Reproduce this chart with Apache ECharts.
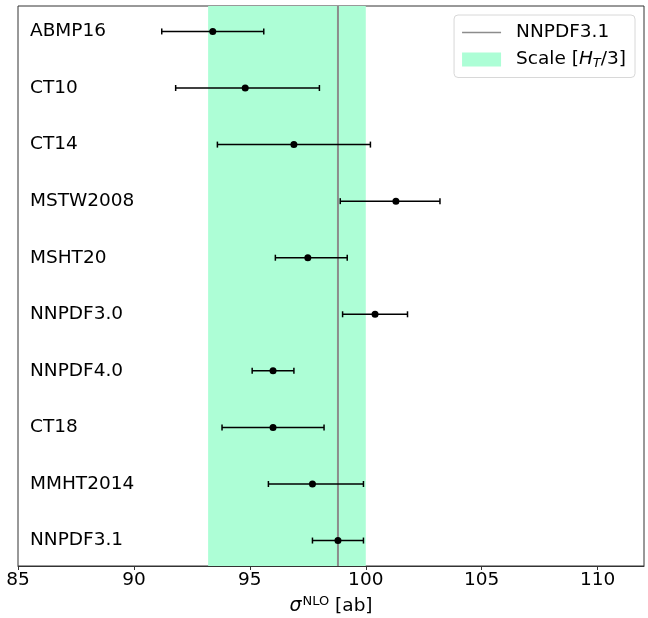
<!DOCTYPE html>
<html>
<head>
<meta charset="utf-8">
<script src="https://cdn.jsdelivr.net/npm/echarts@6/dist/echarts.min.js"></script>
<style>
  html, body { margin: 0; padding: 0; background: #fff; }
  #chart { width: 648px; height: 618px; }
</style>
</head>
<body>
<div id="chart"></div>
<script>
// PDF sets, top to bottom
const pdfNames = ['ABMP16', 'CT10', 'CT14', 'MSTW2008', 'MSHT20', 'NNPDF3.0', 'NNPDF4.0', 'CT18', 'MMHT2014', 'NNPDF3.1']
// central values and error ends [ab]
const central = [93.4, 94.8, 96.9, 101.3, 97.5, 100.4, 96.0, 96.0, 97.7, 98.8]
const errLow = [91.2, 91.8, 93.6, 98.9, 96.1, 99.0, 95.1, 93.8, 95.8, 97.7]
const errHigh = [95.6, 98.0, 100.2, 103.2, 99.2, 101.8, 96.9, 98.2, 99.9, 99.9]
// reference line (NNPDF3.1) and scale band [H_T/3]
const refValue = 98.8
const scaleBand = [93.2, 100.0]
const xTicks = [85, 90, 95, 100, 105, 110]

const yMin = -0.45
const yMax = 9.45
const font = 'DejaVu Sans'
const fs = 18.5

const chart = echarts.init(document.getElementById('chart'))

const option = {
  backgroundColor: '#fff',
  animation: false,
  textStyle: { fontFamily: font },
  grid: {
    left: 18, right: 4, top: 6, bottom: 52,
    outerBoundsMode: 'none',
    containLabel: false,
    show: true, borderColor: '#333', borderWidth: 1
  },
  legend: {
    orient: 'vertical',
    right: 13,
    top: 15,
    backgroundColor: '#fff',
    borderColor: '#d8d8d8',
    borderWidth: 1,
    borderRadius: 4,
    padding: [7, 9, 7, 8],
    itemWidth: 39,
    itemHeight: 14,
    itemGap: 6,
    textStyle: {
      fontFamily: font, fontSize: fs, color: '#000', lineHeight: 21,
      padding: [0, 0, 0, 10],
      rich: {
        i: { fontFamily: font, fontSize: fs, fontStyle: 'italic', color: '#000' },
        sub: { fontFamily: font, fontSize: 13, fontStyle: 'italic', color: '#000', padding: [9, 0, 0, 0] }
      }
    },
    formatter(name) {
      if (name === 'scale') return 'Scale [{i|H}{sub|T}/3]'
      return name
    },
    data: [
      { name: 'NNPDF3.1', icon: 'path://M0,0 L40,0 L40,1.6 L0,1.6 Z' },
      { name: 'scale', icon: 'rect' }
    ]
  },
  xAxis: {
    type: 'value',
    min: 85,
    max: 112,
    interval: 5,
    name: '{s|σ}{sup|NLO} [ab]',
    nameLocation: 'middle',
    nameGap: 28,
    nameTextStyle: {
      fontFamily: font, fontSize: fs, color: '#000',
      rich: {
        s: { fontFamily: font, fontSize: 19, fontStyle: 'italic', color: '#000' },
        sup: { fontFamily: font, fontSize: 13, color: '#000', padding: [0, 0, 10, 1] }
      }
    },
    axisLine: { show: true, onZero: false, lineStyle: { color: '#333', width: 1 } },
    axisTick: { show: true, length: 4, customValues: xTicks, lineStyle: { color: '#333' } },
    splitLine: { show: false },
    axisLabel: {
      fontFamily: font, fontSize: fs, color: '#000', margin: 5,
      customValues: xTicks
    }
  },
  yAxis: {
    type: 'value',
    min: yMin,
    max: yMax,
    inverse: true,
    axisLine: { show: false },
    axisTick: { show: false },
    axisLabel: { show: false },
    splitLine: { show: false }
  },
  series: [
    {
      name: 'scale',
      type: 'custom',
      z: 1,
      itemStyle: { color: '#adfed6' },
      data: [[scaleBand[0], scaleBand[1]]],
      renderItem(params, api) {
        const p0 = api.coord([api.value(0), yMin])
        const p1 = api.coord([api.value(1), yMax])
        return {
          type: 'rect',
          shape: { x: p0[0], y: p0[1], width: p1[0] - p0[0], height: p1[1] - p0[1] },
          style: { fill: '#adfed6' }
        }
      }
    },
    {
      name: 'NNPDF3.1',
      type: 'line',
      z: 2,
      symbol: 'none',
      color: '#8c8c8c',
      lineStyle: { color: '#8c8c8c', width: 2 },
      data: [[refValue, yMin], [refValue, yMax]]
    },
    {
      name: 'errbars',
      type: 'custom',
      z: 3,
      data: pdfNames.map((n, i) => [errLow[i], errHigh[i], i]),
      renderItem(params, api) {
        const a = api.coord([api.value(0), api.value(2)])
        const b = api.coord([api.value(1), api.value(2)])
        const cap = 3
        const st = { stroke: '#000', lineWidth: 1.5 }
        return {
          type: 'group',
          children: [
            { type: 'line', shape: { x1: a[0], y1: a[1], x2: b[0], y2: b[1] }, style: st },
            { type: 'line', shape: { x1: a[0], y1: a[1] - cap, x2: a[0], y2: a[1] + cap }, style: st },
            { type: 'line', shape: { x1: b[0], y1: b[1] - cap, x2: b[0], y2: b[1] + cap }, style: st }
          ]
        }
      }
    },
    {
      name: 'central',
      type: 'scatter',
      z: 4,
      symbolSize: 7,
      itemStyle: { color: '#000', opacity: 1 },
      data: central.map((v, i) => [v, i])
    },
    {
      name: 'labels',
      type: 'scatter',
      z: 5,
      symbolSize: 0,
      silent: true,
      itemStyle: { opacity: 1 },
      label: {
        show: true,
        position: 'right',
        distance: 12,
        fontFamily: font,
        fontSize: fs,
        color: '#000',
        formatter: p => pdfNames[p.dataIndex]
      },
      data: pdfNames.map((n, i) => [85, i])
    }
  ]
}

chart.setOption(option)
</script>
</body>
</html>
